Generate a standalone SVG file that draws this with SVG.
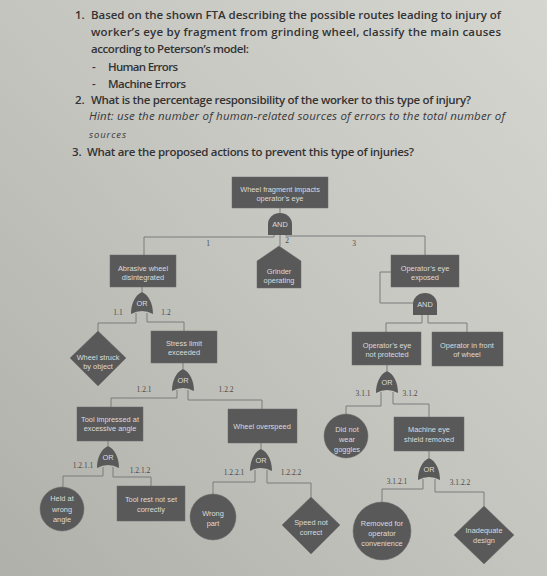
<svg xmlns="http://www.w3.org/2000/svg" width="547" height="576" viewBox="0 0 547 576">
<defs>
<linearGradient id="bg" x1="1" y1="0" x2="0" y2="1">
<stop offset="0" stop-color="#d6d6d1"/>
<stop offset="0.5" stop-color="#c5c5c0"/>
<stop offset="1" stop-color="#b0b0aa"/>
</linearGradient>
<path id="or" d="M0,0 C7,3 11,12 11,22 Q0,16 -11,22 C-11,12 -7,3 0,0 Z"/>
<path id="and" d="M-12,22 L-12,11 A12,11 0 0 1 12,11 L12,22 Z"/>
</defs>
<style>
.q{font-family:"Open Sans","Liberation Sans",sans-serif;font-size:11.5px;font-weight:600;fill:#333}
.qi{font-family:"Open Sans","Liberation Sans",sans-serif;font-size:11.5px;font-style:italic;font-weight:500;fill:#383838}
.n{fill:#595959;stroke:#6a6a6a;stroke-width:0.5}
.g{fill:#595959}
.t{font-family:"Liberation Sans",Arial,sans-serif;font-size:7.4px;fill:#dcdcdc;text-anchor:middle}
.l{font-family:"Liberation Serif","Times New Roman",serif;font-size:7.5px;fill:#4a4a4a;text-anchor:middle}
.c{fill:none;stroke:#7a7a7a;stroke-width:1}
</style>
<rect width="547" height="576" fill="url(#bg)"/>

<g id="questions">
<text class="q" x="75" y="19">1.</text>
<text class="q" x="91" y="19" textLength="410" lengthAdjust="spacing">Based on the shown FTA describing the possible routes leading to injury of</text>
<text class="q" x="91" y="36" textLength="410" lengthAdjust="spacing">worker’s eye by fragment from grinding wheel, classify the main causes</text>
<text class="q" x="91" y="53" textLength="158" lengthAdjust="spacing">according to Peterson’s model:</text>
<text class="q" x="92" y="71">-</text>
<text class="q" x="108" y="71" textLength="70" lengthAdjust="spacing">Human Errors</text>
<text class="q" x="92" y="88">-</text>
<text class="q" x="108" y="88" textLength="78" lengthAdjust="spacing">Machine Errors</text>
<text class="q" x="75" y="104">2.</text>
<text class="q" x="91" y="104" textLength="380" lengthAdjust="spacing">What is the percentage responsibility of the worker to this type of injury?</text>
<text class="qi" x="89" y="120" textLength="416" lengthAdjust="spacing">Hint: use the number of human-related sources of errors to the total number of</text>
<text class="qi" x="89" y="138" style="font-size:9.5px" textLength="37" lengthAdjust="spacing">sources</text>
<text class="q" x="72" y="156">3.</text>
<text class="q" x="87" y="156" textLength="327" lengthAdjust="spacing">What are the proposed actions to prevent this type of injuries?</text>
</g>

<g id="connectors">
<polyline class="c" points="280,208 280,213"/>
<polyline class="c" points="274,234 274,237 144,237 144,255"/>
<polyline class="c" points="280,234 280,246"/>
<polyline class="c" points="286,234 286,236 425,236 425,255"/>
<polyline class="c" points="142,287 142,292"/>
<polyline class="c" points="136,313 136,323 98,323 98,331"/>
<polyline class="c" points="147,313 147,322 184,322 184,331"/>
<polyline class="c" points="183,363 183,369"/>
<polyline class="c" points="177,390 177,398 111,398 111,407"/>
<polyline class="c" points="188,390 188,400 262,400 262,409"/>
<polyline class="c" points="108,441 108,446"/>
<polyline class="c" points="103,467 103,476 63,476 63,487"/>
<polyline class="c" points="113,467 113,477 151,477 151,486"/>
<polyline class="c" points="261,443 261,449"/>
<polyline class="c" points="255,470 255,482 213,482 213,494"/>
<polyline class="c" points="267,470 267,483 311,483 311,497"/>
<polyline class="c" points="391,272 380,272 380,303 413,303"/>
<polyline class="c" points="422,315 422,323 386,323 386,332"/>
<polyline class="c" points="428,315 428,323 467,323 467,332"/>
<polyline class="c" points="387,365 387,371"/>
<polyline class="c" points="381,392 381,406 346,406 346,414"/>
<polyline class="c" points="393,392 393,404 429,404 429,417"/>
<polyline class="c" points="429,451 429,458"/>
<polyline class="c" points="423,479 423,489 382,489 382,502"/>
<polyline class="c" points="435,479 435,492 484,492 484,506"/>
</g>

<g id="labels">
<text class="l" x="208" y="246">1</text>
<text class="l" x="287" y="243">2</text>
<text class="l" x="354" y="246">3</text>
<text class="l" x="118" y="315">1.1</text>
<text class="l" x="166" y="315">1.2</text>
<text class="l" x="144" y="392">1.2.1</text>
<text class="l" x="226" y="392">1.2.2</text>
<text class="l" x="363" y="396">3.1.1</text>
<text class="l" x="410" y="396">3.1.2</text>
<text class="l" x="83" y="468">1.2.1.1</text>
<text class="l" x="140" y="473">1.2.1.2</text>
<text class="l" x="234" y="475">1.2.2.1</text>
<text class="l" x="291" y="475">1.2.2.2</text>
<text class="l" x="397" y="484">3.1.2.1</text>
<text class="l" x="460" y="485">3.1.2.2</text>
</g>

<g id="top-event">
<rect class="n" x="232" y="177" width="96" height="31"/>
<text class="t" x="280" y="191.5">Wheel fragment impacts</text>
<text class="t" x="280" y="200.5">operator’s eye</text>
</g>
<g id="gate-and-top">
<use href="#and" class="g" x="280" y="213"/>
<text class="t" x="280" y="226.5">AND</text>
</g>

<g id="abrasive-wheel">
<rect class="n" x="110" y="255" width="66" height="32"/>
<text class="t" x="143" y="270.5">Abrasive wheel</text>
<text class="t" x="143" y="279.5">disintegrated</text>
</g>
<g id="grinder-operating">
<path class="n" d="M279,246 L301,261 L301,288 L257,288 L257,261 Z"/>
<text class="t" x="279" y="273.5">Grinder</text>
<text class="t" x="279" y="282.5">operating</text>
</g>
<g id="eye-exposed">
<rect class="n" x="391" y="255" width="68" height="32"/>
<text class="t" x="425" y="270.5">Operator’s eye</text>
<text class="t" x="425" y="279.5">exposed</text>
</g>

<g id="gate-or-1">
<use href="#or" class="g" x="142" y="292"/>
<text class="t" x="142" y="305.5">OR</text>
</g>
<g id="gate-and-3">
<use href="#and" class="g" x="425" y="293"/>
<text class="t" x="425" y="306.5">AND</text>
</g>

<g id="wheel-struck">
<path class="n" d="M98,331 L126,358 L98,386 L70,358 Z"/>
<text class="t" x="98" y="359.5">Wheel struck</text>
<text class="t" x="98" y="368.5">by object</text>
</g>
<g id="stress-limit">
<rect class="n" x="151" y="331" width="66" height="32"/>
<text class="t" x="184" y="345.5">Stress limit</text>
<text class="t" x="184" y="354.5">exceeded</text>
</g>
<g id="eye-not-protected">
<rect class="n" x="352" y="332" width="69" height="33"/>
<text class="t" x="387" y="347.5">Operator’s eye</text>
<text class="t" x="387" y="356.5">not protected</text>
</g>
<g id="operator-front">
<rect class="n" x="432" y="332" width="71" height="34"/>
<text class="t" x="467" y="347.5">Operator in front</text>
<text class="t" x="467" y="357">of wheel</text>
</g>

<g id="gate-or-1-2">
<use href="#or" class="g" x="183" y="369"/>
<text class="t" x="183" y="382.5">OR</text>
</g>
<g id="gate-or-3-1">
<use href="#or" class="g" x="387" y="371"/>
<text class="t" x="387" y="384.5">OR</text>
</g>

<g id="tool-impressed">
<rect class="n" x="77" y="407" width="66" height="34"/>
<text class="t" x="110" y="421.5">Tool impressed at</text>
<text class="t" x="110" y="431">excessive angle</text>
</g>
<g id="wheel-overspeed">
<rect class="n" x="228" y="409" width="69" height="34"/>
<text class="t" x="262" y="429">Wheel overspeed</text>
</g>
<g id="no-goggles">
<circle class="n" cx="346" cy="436" r="22"/>
<text class="t" x="347" y="431.5">Did not</text>
<text class="t" x="347" y="441.5">wear</text>
<text class="t" x="347" y="451.5">goggles</text>
</g>
<g id="shield-removed">
<rect class="n" x="394" y="417" width="70" height="34"/>
<text class="t" x="429" y="432">Machine eye</text>
<text class="t" x="429" y="441.5">shield removed</text>
</g>

<g id="gate-or-1-2-1">
<use href="#or" class="g" x="108" y="446"/>
<text class="t" x="108" y="459.5">OR</text>
</g>
<g id="gate-or-1-2-2">
<use href="#or" class="g" x="261" y="449"/>
<text class="t" x="261" y="462.5">OR</text>
</g>
<g id="gate-or-3-1-2">
<use href="#or" class="g" x="429" y="458"/>
<text class="t" x="429" y="471.5">OR</text>
</g>

<g id="held-wrong-angle">
<circle class="n" cx="62" cy="509" r="22"/>
<text class="t" x="62" y="500.5">Held at</text>
<text class="t" x="62" y="511.5">wrong</text>
<text class="t" x="62" y="521.5">angle</text>
</g>
<g id="tool-rest">
<rect class="n" x="117" y="486" width="68" height="35"/>
<text class="t" x="151" y="501.5">Tool rest not set</text>
<text class="t" x="151" y="511.5">correctly</text>
</g>
<g id="wrong-part">
<circle class="n" cx="213" cy="517" r="23"/>
<text class="t" x="213" y="515.5">Wrong</text>
<text class="t" x="213" y="525.5">part</text>
</g>
<g id="speed-not-correct">
<path class="n" d="M311,497 L340,525 L311,554 L282,525 Z"/>
<text class="t" x="311" y="524.5">Speed not</text>
<text class="t" x="311" y="534.5">correct</text>
</g>
<g id="removed-convenience">
<circle class="n" cx="382" cy="531" r="29"/>
<text class="t" x="382" y="525.5">Removed for</text>
<text class="t" x="382" y="535.5">operator</text>
<text class="t" x="382" y="545.5">convenience</text>
</g>
<g id="inadequate-design">
<path class="n" d="M484,506 L514,535 L484,564 L454,535 Z"/>
<text class="t" x="484" y="532.5">Inadequate</text>
<text class="t" x="484" y="542.5">design</text>
</g>
</svg>
